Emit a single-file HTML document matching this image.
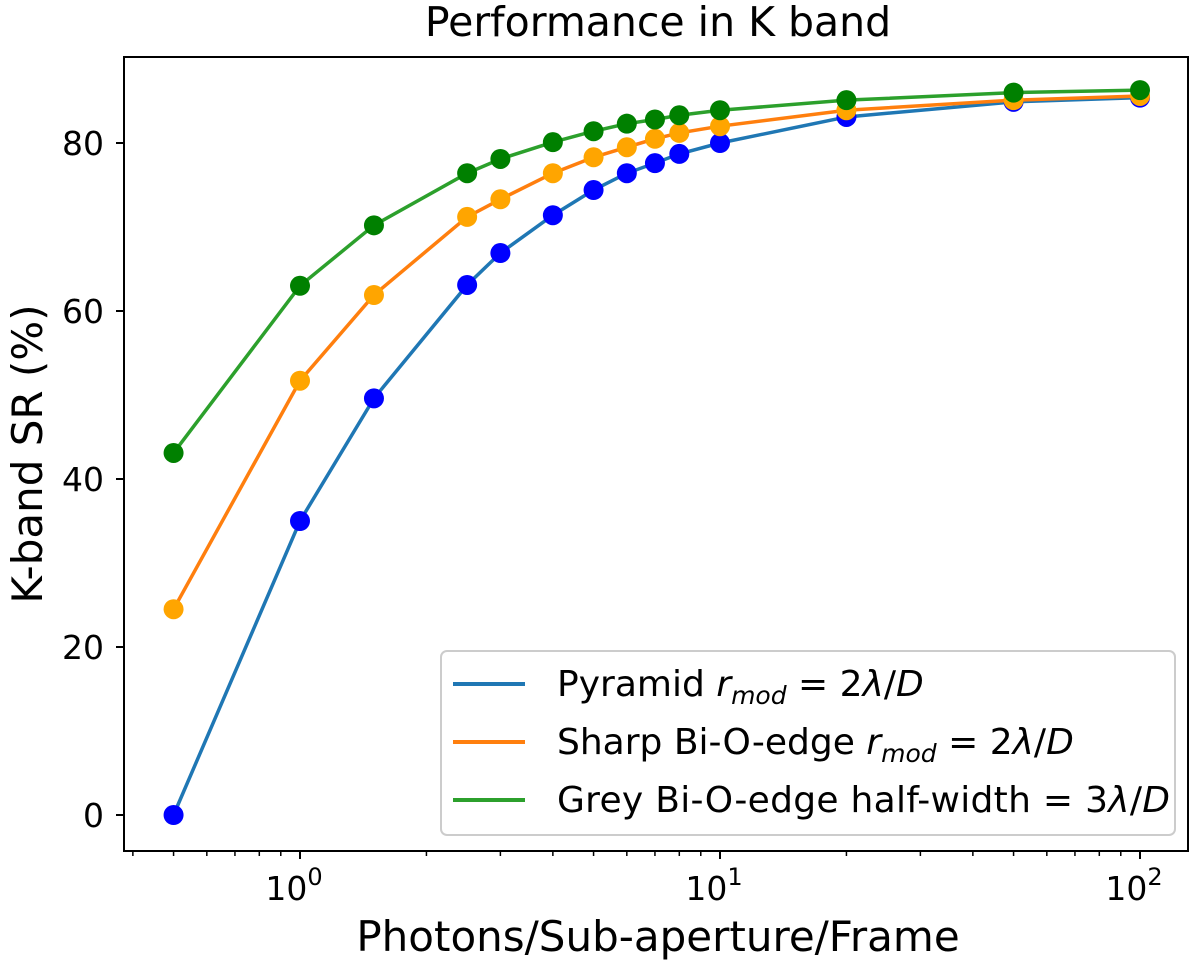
<!DOCTYPE html>
<html><head><meta charset="utf-8"><style>
body{margin:0;background:#fff;}
svg text{font-family:"DejaVu Sans","Liberation Sans",sans-serif;fill:#000;}
</style></head><body>
<svg id="chart" width="1200" height="966" viewBox="0 0 1200 966" xmlns="http://www.w3.org/2000/svg">
<text x="658" y="36" font-size="41" text-anchor="middle">Performance in K band</text>
<g id="series"></g>
<rect x="124" y="57" width="1064" height="794" fill="none" stroke="#000" stroke-width="2"/>
<g id="ticks"></g>
<text x="658" y="951" font-size="42" text-anchor="middle">Photons/Sub-aperture/Frame</text>
<text transform="translate(42,454) rotate(-90)" font-size="42" text-anchor="middle">K-band SR (%)</text>
<g>
<rect x="441" y="651" width="734" height="184" rx="6" fill="#fff" fill-opacity="0.8" stroke="#ccc" stroke-width="2"/>
<line x1="453" y1="684" x2="525" y2="684" stroke="#1f77b4" stroke-width="4"/>
<text x="557" y="696" font-size="36">Pyramid <tspan font-style="italic">r</tspan><tspan font-style="italic" font-size="25" dy="8">mod</tspan><tspan dy="-8"> = 2</tspan><tspan font-style="italic">λ</tspan>/<tspan font-style="italic">D</tspan></text>
<line x1="453" y1="742" x2="525" y2="742" stroke="#ff7f0e" stroke-width="4"/>
<text x="557" y="754" font-size="36">Sharp Bi-O-edge <tspan font-style="italic">r</tspan><tspan font-style="italic" font-size="25" dy="8">mod</tspan><tspan dy="-8"> = 2</tspan><tspan font-style="italic">λ</tspan>/<tspan font-style="italic">D</tspan></text>
<line x1="453" y1="800" x2="525" y2="800" stroke="#2ca02c" stroke-width="4"/>
<text x="557" y="812" font-size="36" textLength="613">Grey Bi-O-edge half-width = 3<tspan font-style="italic">λ</tspan>/<tspan font-style="italic">D</tspan></text>
</g>
</svg>
<script>
const xValues=[0.5,1,1.5,2.5,3,4,5,6,7,8,10,20,50,100];
const pyramid=[0,35,49.6,63.1,66.9,71.4,74.4,76.4,77.6,78.7,80,83.1,84.9,85.4];
const sharp=[24.5,51.7,61.9,71.2,73.3,76.4,78.3,79.5,80.5,81.2,82,83.9,85.1,85.6];
const grey=[43.1,63,70.2,76.4,78.1,80.1,81.4,82.3,82.8,83.3,83.9,85.1,86,86.3];
const yTicks=[0,20,40,60,80];
const xMajor=[1,10,100];
const xMajorLabels=["0","1","2"];
const NS="http://www.w3.org/2000/svg";
function X(v){return 300+Math.log10(v)*420;}
function Y(v){return 815-v*8.4;}
const tk=document.getElementById('ticks'), sg=document.getElementById('series');
function mk(t,a,p){const e=document.createElementNS(NS,t);for(const k in a)e.setAttribute(k,a[k]);p.appendChild(e);return e;}
yTicks.forEach(v=>{
 const l=mk('line',{x1:116,x2:124,y1:Y(v),y2:Y(v),stroke:'#000','stroke-width':2},tk);
 
 
 const t=mk('text',{x:104,y:Y(v)+12,'font-size':33,'text-anchor':'end'},tk);
 t.textContent=v;
 
 
});
for(let d=-1;d<=2;d++){for(let m=1;m<10;m++){const v=m*Math.pow(10,d);const x=X(v);if(x<124||x>1188)continue;
 const major=(m===1);
 const l=mk('line',{x1:x,x2:x,y1:851,y2:major?859:856,stroke:'#000','stroke-width':major?2:1.5},tk);
 
 
}}
xMajor.forEach((v,i)=>{
 const t=mk('text',{x:X(v)-6,y:900,'font-size':33,'text-anchor':'middle'},tk);
 t.textContent='10';
 const s=mk('tspan',{dy:-15,'font-size':24},t);s.textContent=xMajorLabels[i];
 
 
});
function draw(vals,lc,dc,name){
 const pts=xValues.map((x,i)=>X(x)+','+Y(vals[i])).join(' ');
 const pl=mk('polyline',{points:pts,fill:'none',stroke:lc,'stroke-width':3.5},sg);
 
 
 xValues.forEach((x,i)=>{
  const c=mk('circle',{cx:X(x),cy:Y(vals[i]),r:10,fill:dc},sg);
  
  
 });
}
draw(pyramid,'#1f77b4','#0000ff','pyramid');
draw(sharp,'#ff7f0e','#ffa500','sharp');
draw(grey,'#2ca02c','#008000','grey');
</script>
</body></html>
